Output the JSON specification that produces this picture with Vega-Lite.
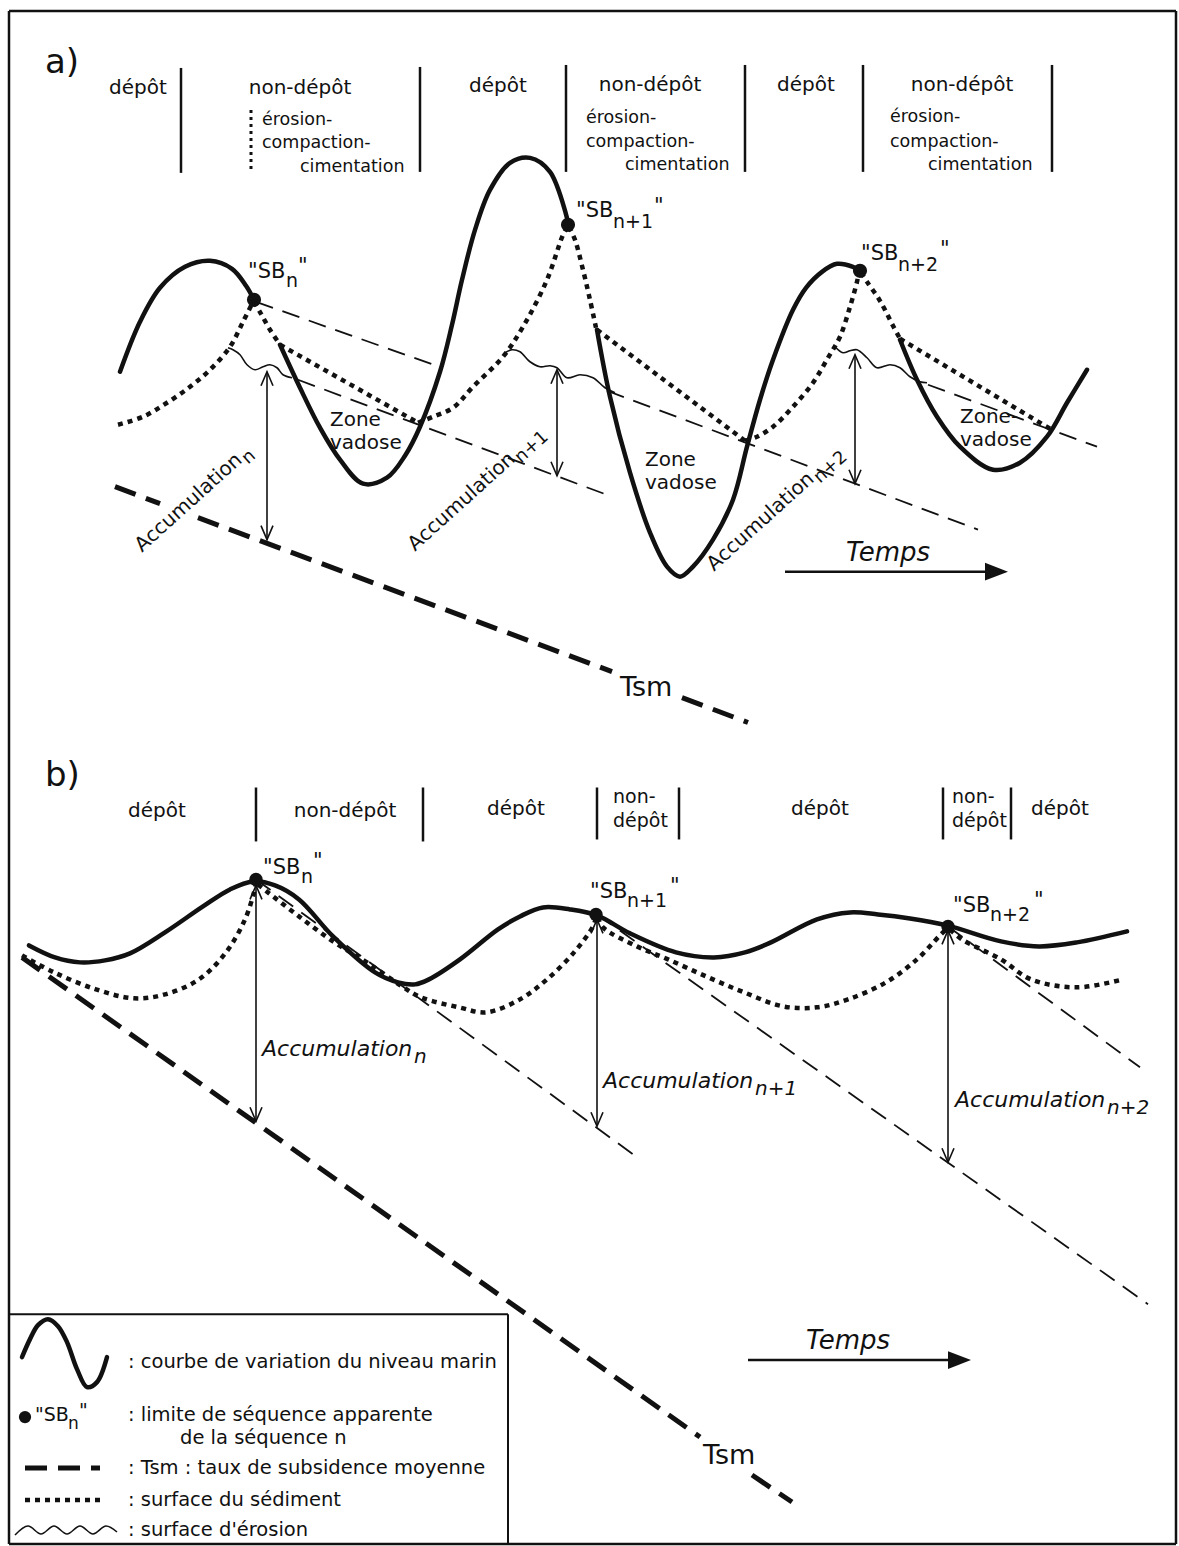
{
"$schema": "https://vega.github.io/schema/vega-lite/v6.json",
"width": 1179, "height": 1546,
"autosize": {"type": "fit", "contains": "padding"},
"padding": 0,
"background": "white",
"config": {"view": {"stroke": null}},
"datasets": {
"curves": [
{"k":"thick","g":"a1","x":120,"y":372},{"k":"thick","g":"a1","x":140,"y":322},{"k":"thick","g":"a1","x":160,"y":288},{"k":"thick","g":"a1","x":185,"y":267},{"k":"thick","g":"a1","x":210,"y":261},{"k":"thick","g":"a1","x":232,"y":269},{"k":"thick","g":"a1","x":246,"y":286},{"k":"thick","g":"a1","x":254,"y":300},
{"k":"thick","g":"a2","x":280,"y":345},{"k":"thick","g":"a2","x":300,"y":388},{"k":"thick","g":"a2","x":320,"y":428},{"k":"thick","g":"a2","x":340,"y":460},{"k":"thick","g":"a2","x":363,"y":484},{"k":"thick","g":"a2","x":387,"y":478},{"k":"thick","g":"a2","x":405,"y":456},{"k":"thick","g":"a2","x":420,"y":427},{"k":"thick","g":"a2","x":440,"y":372},{"k":"thick","g":"a2","x":452,"y":325},{"k":"thick","g":"a2","x":462,"y":280},{"k":"thick","g":"a2","x":475,"y":230},{"k":"thick","g":"a2","x":490,"y":190},{"k":"thick","g":"a2","x":510,"y":163},{"k":"thick","g":"a2","x":530,"y":158},{"k":"thick","g":"a2","x":550,"y":172},{"k":"thick","g":"a2","x":568,"y":222},
{"k":"thick","g":"a3","x":597,"y":330},{"k":"thick","g":"a3","x":610,"y":397},{"k":"thick","g":"a3","x":630,"y":473},{"k":"thick","g":"a3","x":650,"y":533},{"k":"thick","g":"a3","x":667,"y":567},{"k":"thick","g":"a3","x":680,"y":577},{"k":"thick","g":"a3","x":693,"y":567},{"k":"thick","g":"a3","x":713,"y":540},{"k":"thick","g":"a3","x":733,"y":500},{"k":"thick","g":"a3","x":747,"y":447},{"k":"thick","g":"a3","x":760,"y":400},{"k":"thick","g":"a3","x":773,"y":360},{"k":"thick","g":"a3","x":793,"y":310},{"k":"thick","g":"a3","x":806,"y":288},{"k":"thick","g":"a3","x":822,"y":272},{"k":"thick","g":"a3","x":837,"y":264},{"k":"thick","g":"a3","x":853,"y":267},{"k":"thick","g":"a3","x":860,"y":271},
{"k":"thick","g":"a4","x":900,"y":340},{"k":"thick","g":"a4","x":917,"y":380},{"k":"thick","g":"a4","x":937,"y":417},{"k":"thick","g":"a4","x":960,"y":447},{"k":"thick","g":"a4","x":993,"y":470},{"k":"thick","g":"a4","x":1020,"y":463},{"k":"thick","g":"a4","x":1047,"y":437},{"k":"thick","g":"a4","x":1067,"y":403},{"k":"thick","g":"a4","x":1087,"y":370},
{"k":"thick","g":"b1","x":29,"y":946},{"k":"thick","g":"b1","x":55,"y":958},{"k":"thick","g":"b1","x":80,"y":963},{"k":"thick","g":"b1","x":105,"y":961},{"k":"thick","g":"b1","x":130,"y":954},{"k":"thick","g":"b1","x":165,"y":933},{"k":"thick","g":"b1","x":203,"y":907},{"k":"thick","g":"b1","x":230,"y":890},{"k":"thick","g":"b1","x":253,"y":882},{"k":"thick","g":"b1","x":275,"y":886},{"k":"thick","g":"b1","x":299,"y":900},{"k":"thick","g":"b1","x":333,"y":937},{"k":"thick","g":"b1","x":375,"y":973},{"k":"thick","g":"b1","x":398,"y":983},{"k":"thick","g":"b1","x":415,"y":985},{"k":"thick","g":"b1","x":429,"y":980},{"k":"thick","g":"b1","x":460,"y":960},{"k":"thick","g":"b1","x":498,"y":930},{"k":"thick","g":"b1","x":520,"y":917},{"k":"thick","g":"b1","x":543,"y":908},{"k":"thick","g":"b1","x":570,"y":910},{"k":"thick","g":"b1","x":597,"y":916},{"k":"thick","g":"b1","x":630,"y":934},{"k":"thick","g":"b1","x":676,"y":953},{"k":"thick","g":"b1","x":714,"y":958},{"k":"thick","g":"b1","x":745,"y":953},{"k":"thick","g":"b1","x":771,"y":943},{"k":"thick","g":"b1","x":817,"y":920},{"k":"thick","g":"b1","x":850,"y":913},{"k":"thick","g":"b1","x":878,"y":915},{"k":"thick","g":"b1","x":910,"y":919},{"k":"thick","g":"b1","x":947,"y":926},{"k":"thick","g":"b1","x":1001,"y":942},{"k":"thick","g":"b1","x":1039,"y":947},{"k":"thick","g":"b1","x":1077,"y":943},{"k":"thick","g":"b1","x":1127,"y":932},
{"k":"thick","g":"L","x":22,"y":1358},{"k":"thick","g":"L","x":30,"y":1340},{"k":"thick","g":"L","x":38,"y":1326},{"k":"thick","g":"L","x":48,"y":1320},{"k":"thick","g":"L","x":58,"y":1327},{"k":"thick","g":"L","x":67,"y":1343},{"k":"thick","g":"L","x":77,"y":1370},{"k":"thick","g":"L","x":87,"y":1388},{"k":"thick","g":"L","x":97,"y":1383},{"k":"thick","g":"L","x":107,"y":1358},
{"k":"dot","g":"a1","x":118,"y":425},{"k":"dot","g":"a1","x":143,"y":417},{"k":"dot","g":"a1","x":167,"y":403},{"k":"dot","g":"a1","x":190,"y":387},{"k":"dot","g":"a1","x":210,"y":370},{"k":"dot","g":"a1","x":230,"y":347},{"k":"dot","g":"a1","x":243,"y":322},{"k":"dot","g":"a1","x":253,"y":302},
{"k":"dot","g":"a2","x":254,"y":302},{"k":"dot","g":"a2","x":261,"y":314},{"k":"dot","g":"a2","x":270,"y":330},{"k":"dot","g":"a2","x":280,"y":345},
{"k":"dot","g":"a3","x":280,"y":345},{"k":"dot","g":"a3","x":418,"y":423},
{"k":"dot","g":"a4","x":418,"y":423},{"k":"dot","g":"a4","x":433,"y":417},{"k":"dot","g":"a4","x":453,"y":408},{"k":"dot","g":"a4","x":473,"y":387},{"k":"dot","g":"a4","x":503,"y":357},{"k":"dot","g":"a4","x":523,"y":327},{"k":"dot","g":"a4","x":547,"y":280},{"k":"dot","g":"a4","x":563,"y":235},{"k":"dot","g":"a4","x":568,"y":226},
{"k":"dot","g":"a5","x":569,"y":227},{"k":"dot","g":"a5","x":575,"y":240},{"k":"dot","g":"a5","x":583,"y":270},{"k":"dot","g":"a5","x":590,"y":300},{"k":"dot","g":"a5","x":596,"y":328},
{"k":"dot","g":"a6","x":597,"y":330},{"k":"dot","g":"a6","x":745,"y":441},
{"k":"dot","g":"a7","x":745,"y":441},{"k":"dot","g":"a7","x":757,"y":437},{"k":"dot","g":"a7","x":773,"y":427},{"k":"dot","g":"a7","x":793,"y":407},{"k":"dot","g":"a7","x":813,"y":383},{"k":"dot","g":"a7","x":828,"y":358},{"k":"dot","g":"a7","x":840,"y":337},{"k":"dot","g":"a7","x":850,"y":307},{"k":"dot","g":"a7","x":857,"y":282},{"k":"dot","g":"a7","x":859,"y":272},
{"k":"dot","g":"a8","x":861,"y":273},{"k":"dot","g":"a8","x":867,"y":282},{"k":"dot","g":"a8","x":880,"y":301},{"k":"dot","g":"a8","x":893,"y":326},{"k":"dot","g":"a8","x":900,"y":339},
{"k":"dot","g":"a9","x":900,"y":339},{"k":"dot","g":"a9","x":1050,"y":429},
{"k":"dot","g":"b1","x":22,"y":956},{"k":"dot","g":"b1","x":54,"y":973},{"k":"dot","g":"b1","x":96,"y":990},{"k":"dot","g":"b1","x":134,"y":999},{"k":"dot","g":"b1","x":165,"y":995},{"k":"dot","g":"b1","x":199,"y":980},{"k":"dot","g":"b1","x":226,"y":953},{"k":"dot","g":"b1","x":245,"y":920},{"k":"dot","g":"b1","x":254,"y":893},{"k":"dot","g":"b1","x":256,"y":884},
{"k":"dot","g":"b2","x":258,"y":885},{"k":"dot","g":"b2","x":268,"y":893},{"k":"dot","g":"b2","x":299,"y":917},{"k":"dot","g":"b2","x":333,"y":942},{"k":"dot","g":"b2","x":367,"y":963},{"k":"dot","g":"b2","x":402,"y":987},{"k":"dot","g":"b2","x":421,"y":998},{"k":"dot","g":"b2","x":459,"y":1008},{"k":"dot","g":"b2","x":486,"y":1013},{"k":"dot","g":"b2","x":520,"y":1000},{"k":"dot","g":"b2","x":547,"y":980},{"k":"dot","g":"b2","x":574,"y":953},{"k":"dot","g":"b2","x":593,"y":927},{"k":"dot","g":"b2","x":596,"y":918},
{"k":"dot","g":"b3","x":598,"y":918},{"k":"dot","g":"b3","x":603,"y":928},{"k":"dot","g":"b3","x":637,"y":947},{"k":"dot","g":"b3","x":668,"y":960},{"k":"dot","g":"b3","x":706,"y":977},{"k":"dot","g":"b3","x":744,"y":993},{"k":"dot","g":"b3","x":783,"y":1007},{"k":"dot","g":"b3","x":817,"y":1008},{"k":"dot","g":"b3","x":848,"y":1000},{"k":"dot","g":"b3","x":886,"y":983},{"k":"dot","g":"b3","x":917,"y":960},{"k":"dot","g":"b3","x":939,"y":937},{"k":"dot","g":"b3","x":947,"y":929},
{"k":"dot","g":"b4","x":950,"y":930},{"k":"dot","g":"b4","x":962,"y":940},{"k":"dot","g":"b4","x":1001,"y":960},{"k":"dot","g":"b4","x":1031,"y":980},{"k":"dot","g":"b4","x":1077,"y":988},{"k":"dot","g":"b4","x":1123,"y":980},
{"k":"dot","g":"L","x":25,"y":1501},{"k":"dot","g":"L","x":100,"y":1501},
{"k":"tdash","g":"a1","x":256,"y":302},{"k":"tdash","g":"a1","x":442,"y":368},
{"k":"tdash","g":"a2","x":298,"y":380},{"k":"tdash","g":"a2","x":612,"y":497},
{"k":"tdash","g":"a3","x":607,"y":391},{"k":"tdash","g":"a3","x":978,"y":530},
{"k":"tdash","g":"a4","x":928,"y":385},{"k":"tdash","g":"a4","x":1097,"y":447},
{"k":"tdash","g":"b1","x":256,"y":880},{"k":"tdash","g":"b1","x":633,"y":1155},
{"k":"tdash","g":"b2","x":597,"y":915},{"k":"tdash","g":"b2","x":1148,"y":1305},
{"k":"tdash","g":"b3","x":948,"y":927},{"k":"tdash","g":"b3","x":1140,"y":1068},
{"k":"tsm","g":"a0","x":115,"y":487},{"k":"tsm","g":"a0","x":160,"y":504},
{"k":"tsm","g":"a1","x":198,"y":518},{"k":"tsm","g":"a1","x":612,"y":672},
{"k":"tsm","g":"a2","x":682,"y":698},{"k":"tsm","g":"a2","x":748,"y":723},
{"k":"tsm","g":"b1","x":22,"y":958},{"k":"tsm","g":"b1","x":700,"y":1438},
{"k":"tsm","g":"b2","x":752,"y":1476},{"k":"tsm","g":"b2","x":792,"y":1503},
{"k":"tsm","g":"L","x":25,"y":1469},{"k":"tsm","g":"L","x":100,"y":1469},
{"k":"wavy","g":"w1","x":228,"y":348},{"k":"wavy","g":"w1","x":233,"y":350},{"k":"wavy","g":"w1","x":240,"y":355},{"k":"wavy","g":"w1","x":247,"y":365},{"k":"wavy","g":"w1","x":255,"y":370},{"k":"wavy","g":"w1","x":263,"y":367},{"k":"wavy","g":"w1","x":270,"y":365},{"k":"wavy","g":"w1","x":277,"y":368},{"k":"wavy","g":"w1","x":283,"y":375},{"k":"wavy","g":"w1","x":292,"y":378},
{"k":"wavy","g":"w2","x":505,"y":353},{"k":"wavy","g":"w2","x":512,"y":350},{"k":"wavy","g":"w2","x":520,"y":352},{"k":"wavy","g":"w2","x":530,"y":362},{"k":"wavy","g":"w2","x":540,"y":367},{"k":"wavy","g":"w2","x":550,"y":366},{"k":"wavy","g":"w2","x":557,"y":368},{"k":"wavy","g":"w2","x":567,"y":378},{"k":"wavy","g":"w2","x":580,"y":375},{"k":"wavy","g":"w2","x":593,"y":378},{"k":"wavy","g":"w2","x":605,"y":388},{"k":"wavy","g":"w2","x":615,"y":393},
{"k":"wavy","g":"w3","x":835,"y":347},{"k":"wavy","g":"w3","x":843,"y":353},{"k":"wavy","g":"w3","x":850,"y":351},{"k":"wavy","g":"w3","x":857,"y":350},{"k":"wavy","g":"w3","x":867,"y":358},{"k":"wavy","g":"w3","x":877,"y":368},{"k":"wavy","g":"w3","x":890,"y":365},{"k":"wavy","g":"w3","x":900,"y":368},{"k":"wavy","g":"w3","x":910,"y":377},{"k":"wavy","g":"w3","x":920,"y":382},{"k":"wavy","g":"w3","x":927,"y":383},
{"k":"wavy","g":"L","x":15,"y":1536},{"k":"wavy","g":"L","x":28,"y":1527},{"k":"wavy","g":"L","x":41,"y":1535},{"k":"wavy","g":"L","x":54,"y":1527},{"k":"wavy","g":"L","x":67,"y":1535},{"k":"wavy","g":"L","x":80,"y":1527},{"k":"wavy","g":"L","x":93,"y":1535},{"k":"wavy","g":"L","x":106,"y":1527},{"k":"wavy","g":"L","x":117,"y":1533},
{"k":"thin","g":"s1","x":267,"y":372},{"k":"thin","g":"s1","x":267,"y":540},
{"k":"thin","g":"h1","x":261,"y":386},{"k":"thin","g":"h1","x":267,"y":372},{"k":"thin","g":"h1","x":273,"y":386},
{"k":"thin","g":"h2","x":261,"y":526},{"k":"thin","g":"h2","x":267,"y":540},{"k":"thin","g":"h2","x":273,"y":526},
{"k":"thin","g":"s2","x":557,"y":370},{"k":"thin","g":"s2","x":557,"y":476},
{"k":"thin","g":"h3","x":551,"y":384},{"k":"thin","g":"h3","x":557,"y":370},{"k":"thin","g":"h3","x":563,"y":384},
{"k":"thin","g":"h4","x":551,"y":462},{"k":"thin","g":"h4","x":557,"y":476},{"k":"thin","g":"h4","x":563,"y":462},
{"k":"thin","g":"s3","x":855,"y":355},{"k":"thin","g":"s3","x":855,"y":484},
{"k":"thin","g":"h5","x":849,"y":369},{"k":"thin","g":"h5","x":855,"y":355},{"k":"thin","g":"h5","x":861,"y":369},
{"k":"thin","g":"h6","x":849,"y":470},{"k":"thin","g":"h6","x":855,"y":484},{"k":"thin","g":"h6","x":861,"y":470},
{"k":"thin","g":"s4","x":256,"y":886},{"k":"thin","g":"s4","x":256,"y":1122},
{"k":"thin","g":"h7","x":250,"y":900},{"k":"thin","g":"h7","x":256,"y":886},{"k":"thin","g":"h7","x":262,"y":900},
{"k":"thin","g":"h8","x":250,"y":1108},{"k":"thin","g":"h8","x":256,"y":1122},{"k":"thin","g":"h8","x":262,"y":1108},
{"k":"thin","g":"s5","x":597,"y":920},{"k":"thin","g":"s5","x":597,"y":1127},
{"k":"thin","g":"h9","x":591,"y":934},{"k":"thin","g":"h9","x":597,"y":920},{"k":"thin","g":"h9","x":603,"y":934},
{"k":"thin","g":"h10","x":591,"y":1113},{"k":"thin","g":"h10","x":597,"y":1127},{"k":"thin","g":"h10","x":603,"y":1113},
{"k":"thin","g":"s6","x":948,"y":931},{"k":"thin","g":"s6","x":948,"y":1163},
{"k":"thin","g":"h11","x":942,"y":945},{"k":"thin","g":"h11","x":948,"y":931},{"k":"thin","g":"h11","x":954,"y":945},
{"k":"thin","g":"h12","x":942,"y":1149},{"k":"thin","g":"h12","x":948,"y":1163},{"k":"thin","g":"h12","x":954,"y":1149}
],
"rules": [
{"x":9,"y":11,"x2":1176,"y2":11,"w":2.5},{"x":9,"y":11,"x2":9,"y2":1545,"w":2.5},{"x":1176,"y":11,"x2":1176,"y2":1545,"w":2.5},{"x":9,"y":1545,"x2":1176,"y2":1545,"w":2.5},
{"x":9,"y":1315,"x2":508,"y2":1315,"w":2},{"x":508,"y":1315,"x2":508,"y2":1545,"w":2},
{"x":181,"y":68,"x2":181,"y2":173,"w":2.5},{"x":420,"y":67,"x2":420,"y2":172,"w":2.5},{"x":566,"y":65,"x2":566,"y2":172,"w":2.5},{"x":745,"y":65,"x2":745,"y2":172,"w":2.5},{"x":863,"y":65,"x2":863,"y2":172,"w":2.5},{"x":1052,"y":65,"x2":1052,"y2":172,"w":2.5},
{"x":256,"y":788,"x2":256,"y2":842,"w":2.5},{"x":423,"y":788,"x2":423,"y2":842,"w":2.5},{"x":597,"y":788,"x2":597,"y2":840,"w":2.5},{"x":679,"y":788,"x2":679,"y2":840,"w":2.5},{"x":943,"y":788,"x2":943,"y2":840,"w":2.5},{"x":1011,"y":788,"x2":1011,"y2":840,"w":2.5},
{"x":785,"y":572,"x2":988,"y2":572,"w":2.5},{"x":748,"y":1361,"x2":950,"y2":1361,"w":2.5}
],
"vdot": [{"x":251,"y":110,"x2":251,"y2":173}],
"tri": [
{"g":"a","x":985,"y":563,"y2":581},{"g":"a","x":1008,"y":572,"y2":572},
{"g":"b","x":948,"y":1352,"y2":1370},{"g":"b","x":971,"y":1361,"y2":1361}
],
"dots": [
{"x":254,"y":300,"s":200},{"x":568,"y":225,"s":200},{"x":860,"y":271,"s":200},
{"x":256,"y":880,"s":180},{"x":596,"y":915,"s":180},{"x":948,"y":927,"s":180},
{"x":25,"y":1418,"s":150}
],
"texts": [
{"st":"c","t":"dépôt","x":138,"y":88,"s":20},{"st":"c","t":"non-dépôt","x":300,"y":88,"s":20},{"st":"c","t":"dépôt","x":498,"y":86,"s":20},{"st":"c","t":"non-dépôt","x":650,"y":85,"s":20},{"st":"c","t":"dépôt","x":806,"y":85,"s":20},{"st":"c","t":"non-dépôt","x":962,"y":85,"s":20},
{"st":"c","t":"dépôt","x":157,"y":812,"s":20},{"st":"c","t":"non-dépôt","x":345,"y":812,"s":20},{"st":"c","t":"dépôt","x":516,"y":810,"s":20},{"st":"c","t":"dépôt","x":820,"y":810,"s":20},{"st":"c","t":"dépôt","x":1060,"y":810,"s":20},
{"st":"l","t":"a)","x":45,"y":63,"s":34},{"st":"l","t":"b)","x":45,"y":777,"s":34},
{"st":"l","t":"non-","x":613,"y":798,"s":19},{"st":"l","t":"dépôt","x":613,"y":822,"s":19},{"st":"l","t":"non-","x":952,"y":798,"s":19},{"st":"l","t":"dépôt","x":952,"y":822,"s":19},
{"st":"l","t":"érosion-","x":262,"y":120,"s":17.5},{"st":"l","t":"compaction-","x":262,"y":143,"s":17.5},{"st":"l","t":"cimentation","x":300,"y":167,"s":17.5},
{"st":"l","t":"érosion-","x":586,"y":118,"s":17.5},{"st":"l","t":"compaction-","x":586,"y":142,"s":17.5},{"st":"l","t":"cimentation","x":625,"y":165,"s":17.5},
{"st":"l","t":"érosion-","x":890,"y":117,"s":17.5},{"st":"l","t":"compaction-","x":890,"y":142,"s":17.5},{"st":"l","t":"cimentation","x":928,"y":165,"s":17.5},
{"st":"l","t":"\"SB","x":248,"y":272,"s":21},{"st":"l","t":"n","x":286,"y":281,"s":19},{"st":"l","t":"\"","x":298,"y":267,"s":21},
{"st":"l","t":"\"SB","x":576,"y":211,"s":21},{"st":"l","t":"n+1","x":613,"y":222,"s":19},{"st":"l","t":"\"","x":654,"y":207,"s":21},
{"st":"l","t":"\"SB","x":861,"y":254,"s":21},{"st":"l","t":"n+2","x":898,"y":265,"s":19},{"st":"l","t":"\"","x":940,"y":250,"s":21},
{"st":"l","t":"\"SB","x":263,"y":869,"s":21},{"st":"l","t":"n","x":301,"y":878,"s":19},{"st":"l","t":"\"","x":313,"y":863,"s":21},
{"st":"l","t":"\"SB","x":590,"y":893,"s":21},{"st":"l","t":"n+1","x":627,"y":902,"s":19},{"st":"l","t":"\"","x":670,"y":888,"s":21},
{"st":"l","t":"\"SB","x":953,"y":907,"s":21},{"st":"l","t":"n+2","x":990,"y":916,"s":19},{"st":"l","t":"\"","x":1034,"y":902,"s":21},
{"st":"l","t":"Zone","x":330,"y":420,"s":20},{"st":"l","t":"vadose","x":330,"y":443,"s":20},
{"st":"l","t":"Zone","x":645,"y":460,"s":20},{"st":"l","t":"vadose","x":645,"y":483,"s":20},
{"st":"l","t":"Zone-","x":960,"y":417,"s":20},{"st":"l","t":"vadose","x":960,"y":440,"s":20},
{"st":"l","t":"Tsm","x":620,"y":688,"s":27},{"st":"l","t":"Tsm","x":703,"y":1457,"s":27},
{"st":"l","t":": courbe de variation du niveau marin","x":128,"y":1363,"s":19.5},
{"st":"l","t":"\"SB","x":35,"y":1416,"s":19},{"st":"l","t":"n","x":68,"y":1425,"s":17},{"st":"l","t":"\"","x":79,"y":1412,"s":19},
{"st":"l","t":": limite de séquence apparente","x":128,"y":1416,"s":19.5},
{"st":"l","t":"de la séquence n","x":180,"y":1439,"s":19.5},
{"st":"l","t":": Tsm : taux de subsidence moyenne","x":128,"y":1469,"s":19.5},
{"st":"l","t":": surface du sédiment","x":128,"y":1501,"s":19.5},
{"st":"l","t":": surface d'érosion","x":128,"y":1531,"s":19.5},
{"st":"i","t":"Temps","x":846,"y":553,"s":26},{"st":"i","t":"Temps","x":806,"y":1342,"s":26},
{"st":"i","t":"Accumulation","x":262,"y":1050,"s":22},{"st":"i","t":"n","x":414,"y":1058,"s":20},
{"st":"i","t":"Accumulation","x":603,"y":1082,"s":22},{"st":"i","t":"n+1","x":755,"y":1090,"s":20},
{"st":"i","t":"Accumulation","x":955,"y":1101,"s":22},{"st":"i","t":"n+2","x":1107,"y":1109,"s":20},
{"st":"r","t":"Accumulation","x":142,"y":553,"s":20},{"st":"r","t":"n","x":248,"y":465,"s":18},
{"st":"r","t":"Accumulation","x":415,"y":552,"s":20},{"st":"r","t":"n+1","x":521,"y":464,"s":18},
{"st":"r","t":"Accumulation","x":714,"y":572,"s":20},{"st":"r","t":"n+2","x":820,"y":484,"s":18}
]
},
"encoding": {
"x": {"field": "x", "type": "quantitative", "scale": {"domain": [0, 1179], "nice": false, "zero": false}, "axis": null},
"y": {"field": "y", "type": "quantitative", "scale": {"domain": [0, 1546], "nice": false, "zero": false, "reverse": true}, "axis": null}
},
"layer": [
{"data": {"name": "rules"}, "mark": {"type": "rule", "color": "#111"}, "encoding": {"x2": {"field": "x2"}, "y2": {"field": "y2"}, "strokeWidth": {"field": "w", "type": "quantitative", "scale": null}}},
{"data": {"name": "vdot"}, "mark": {"type": "rule", "color": "#111", "strokeWidth": 3, "strokeDash": [3, 4]}, "encoding": {"x2": {"field": "x2"}, "y2": {"field": "y2"}}},
{"data": {"name": "curves"}, "transform": [{"filter": "datum.k === 'tdash'"}], "mark": {"type": "line", "color": "#111", "strokeWidth": 1.8, "strokeDash": [18, 10]}, "encoding": {"detail": {"field": "g"}}},
{"data": {"name": "curves"}, "transform": [{"filter": "datum.k === 'tsm'"}], "mark": {"type": "line", "color": "#111", "strokeWidth": 5, "strokeDash": [22, 11]}, "encoding": {"detail": {"field": "g"}}},
{"data": {"name": "curves"}, "transform": [{"filter": "datum.k === 'dot'"}], "mark": {"type": "line", "color": "#111", "strokeWidth": 4.5, "strokeDash": [5, 5], "interpolate": "catmull-rom"}, "encoding": {"detail": {"field": "g"}}},
{"data": {"name": "curves"}, "transform": [{"filter": "datum.k === 'thick'"}], "mark": {"type": "line", "color": "#111", "strokeWidth": 4.5, "strokeCap": "round", "interpolate": "catmull-rom"}, "encoding": {"detail": {"field": "g"}}},
{"data": {"name": "curves"}, "transform": [{"filter": "datum.k === 'wavy'"}], "mark": {"type": "line", "color": "#111", "strokeWidth": 1.6, "interpolate": "catmull-rom"}, "encoding": {"detail": {"field": "g"}}},
{"data": {"name": "curves"}, "transform": [{"filter": "datum.k === 'thin'"}], "mark": {"type": "line", "color": "#111", "strokeWidth": 1.6}, "encoding": {"detail": {"field": "g"}}},
{"data": {"name": "tri"}, "mark": {"type": "area", "color": "#111", "opacity": 1}, "encoding": {"y2": {"field": "y2"}, "detail": {"field": "g"}}},
{"data": {"name": "dots"}, "mark": {"type": "point", "shape": "circle", "filled": true, "color": "#111", "opacity": 1}, "encoding": {"size": {"field": "s", "type": "quantitative", "scale": null}}},
{"data": {"name": "texts"}, "transform": [{"filter": "datum.st === 'c'"}], "mark": {"type": "text", "font": "DejaVu Sans", "align": "center", "baseline": "middle", "color": "#111"}, "encoding": {"text": {"field": "t"}, "size": {"field": "s", "type": "quantitative", "scale": null}}},
{"data": {"name": "texts"}, "transform": [{"filter": "datum.st === 'l'"}], "mark": {"type": "text", "font": "DejaVu Sans", "align": "left", "baseline": "middle", "color": "#111"}, "encoding": {"text": {"field": "t"}, "size": {"field": "s", "type": "quantitative", "scale": null}}},
{"data": {"name": "texts"}, "transform": [{"filter": "datum.st === 'i'"}], "mark": {"type": "text", "font": "DejaVu Sans", "fontStyle": "italic", "align": "left", "baseline": "middle", "color": "#111"}, "encoding": {"text": {"field": "t"}, "size": {"field": "s", "type": "quantitative", "scale": null}}},
{"data": {"name": "texts"}, "transform": [{"filter": "datum.st === 'r'"}], "mark": {"type": "text", "font": "DejaVu Sans", "align": "left", "baseline": "alphabetic", "angle": -42, "color": "#111"}, "encoding": {"text": {"field": "t"}, "size": {"field": "s", "type": "quantitative", "scale": null}}}
]
}
